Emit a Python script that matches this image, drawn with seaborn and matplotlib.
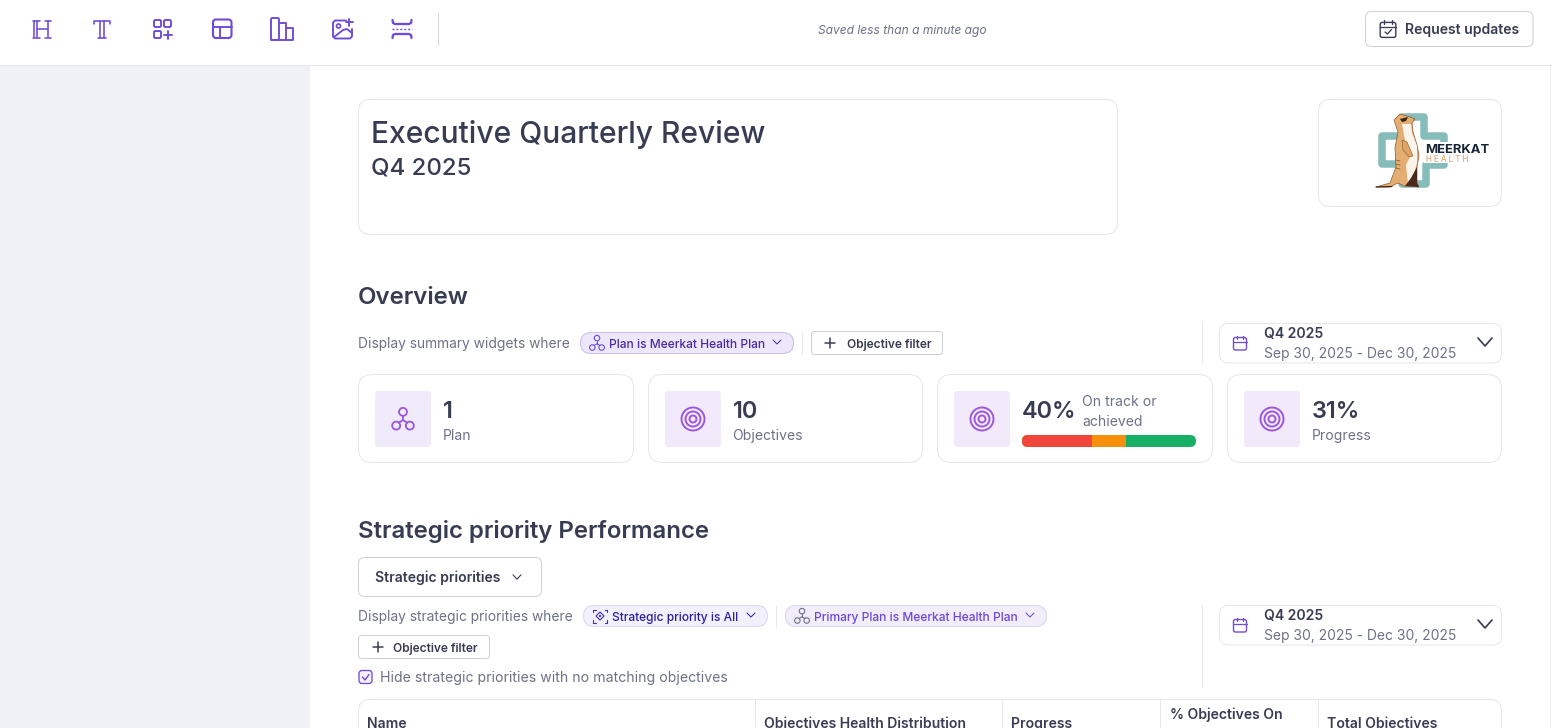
import numpy as np
import pandas as pd
import matplotlib
matplotlib.use("Agg")
import matplotlib.pyplot as plt
from matplotlib.patches import FancyBboxPatch, Circle, Polygon, Rectangle
import seaborn as sns

health_status = ["Off track", "At risk", "On track or achieved"]
health_counts = [4, 2, 4]
stat_values = ["1", "10", "40%", "31%"]
stat_labels = ["Plan", "Objectives", "On track or\nachieved", "Progress"]
table_headers = ["Name", "Objectives Health Distribution", "Progress", "% Objectives On", "Total Objectives"]

sns.set_theme(style="white")
plt.rcParams["font.family"] = ["Inter", "DejaVu Sans"]

DARK = "#373c52"
GRAY = "#6d7286"
LINE = "#e6e7ec"
PURPLE = "#6f4bd8"
ICON = "#9a56dc"
TB = 1.9

fig = plt.figure(figsize=(15.52, 7.28), dpi=100, facecolor="white")
ax = fig.add_axes([0, 0, 1, 1])
ax.set_xlim(0, 1552)
ax.set_ylim(728, 0)
ax.axis("off")
PX = 0.72


def box(x0, y0, x1, y1, r=8, fc="white", ec=LINE, lw=1.0, z=1):
    p = FancyBboxPatch((x0, y0), x1 - x0, y1 - y0, boxstyle=f"round,pad=0,rounding_size={r}",
                       fc=fc, ec=ec, lw=lw * PX, zorder=z, mutation_aspect=1)
    ax.add_patch(p)
    return p


def text(x, y, s, px=14, color=GRAY, weight="normal", ha="left", style="normal"):
    ax.text(x, y, s, fontsize=px * PX, color=color, fontweight=weight, ha=ha, va="baseline",
            fontstyle=style, zorder=5)


def line(xs, ys, color=PURPLE, lw=1.5, z=4, **kw):
    ax.plot(xs, ys, color=color, lw=lw * PX, zorder=z, solid_capstyle="round", **kw)


def chevron(x, y, w=5, h=3, color=DARK, lw=1.2):
    line([x - w, x, x + w], [y - h, y + h, y - h], color=color, lw=lw)


def plus(x, y, s=5, color=DARK, lw=1.5):
    line([x - s, x + s], [y, y], color=color, lw=lw)
    line([x, x], [y - s, y + s], color=color, lw=lw)


def ring(x, y, r, color=ICON, lw=1.3):
    ax.add_patch(Circle((x, y), r, fc="none", ec=color, lw=lw * PX, zorder=4))


def target(x, y):
    ring(x, y, 11.5, lw=1.9)
    ring(x, y, 7.5, lw=1.9)
    ring(x, y, 3.5, lw=1.9)


def nodes(x, y, k=1.0, color=ICON, lw=1.8):
    r = 3.8 * k
    ring(x, y - 6.8 * k, r, color, lw)
    ring(x - 6.5 * k, y + 6.3 * k, r, color, lw)
    ring(x + 6.5 * k, y + 6.3 * k, r, color, lw)
    line([x, x], [y - 3 * k, y + 1 * k], color, lw)
    line([x - 4 * k, x, x + 4 * k], [y + 3.5 * k, y + 1 * k, y + 3.5 * k], color, lw)


def calendar(x, y, color=PURPLE, check=False, k=1.0):
    box(x - 6.5 * k, y - 5.5 * k, x + 6.5 * k, y + 7 * k, r=2, fc="none", ec=color, lw=1.4, z=4)
    line([x - 6.5 * k, x + 6.5 * k], [y - 1.5 * k, y - 1.5 * k], color, 1.3)
    line([x - 3 * k, x - 3 * k], [y - 7.5 * k, y - 4 * k], color, 1.3)
    line([x + 3 * k, x + 3 * k], [y - 7.5 * k, y - 4 * k], color, 1.3)
    if check:
        line([x - 3, x - 0.5, x + 3.5], [y + 3, y + 5, y + 0.5], color, 1.3)


def date_box(y0):
    box(1219.5, y0 + 0.5, 1501.5, y0 + 40, r=9)
    calendar(1240, y0 + 20)
    text(1264, y0 + 15, "Q4 2025", 14, DARK, "semibold")
    text(1264, y0 + 35, "Sep 30, 2025 - Dec 30, 2025", 13.85, GRAY)
    chevron(1485, y0 + 19, 7, 4, DARK, 1.7)


# page scaffold
ax.add_patch(Rectangle((0, 66), 310, 662, fc="#f0f1f6", ec="none", zorder=0))
line([0, 1552], [65, 65], LINE, 1.0, z=1)
line([1550, 1550], [66, 728], "#eceef2", 1.0, z=1)

# toolbar icons
for dx in (33.5, 36.5, 47.5):
    line([dx, dx], [21, 37], PURPLE, TB - 0.3)
line([33, 40], [20.5, 20.5], PURPLE, TB - 0.3); line([33, 40], [37.5, 37.5], PURPLE, TB - 0.3)
line([44.5, 51], [20.5, 20.5], PURPLE, TB - 0.3); line([44.5, 51], [37.5, 37.5], PURPLE, TB - 0.3)
line([36.5, 47.5], [28.5, 28.5], PURPLE, TB - 0.3)
line([94, 94, 110, 110], [24, 20.5, 20.5, 24], PURPLE, TB - 0.3)
line([100, 100], [20.5, 37.5], PURPLE, TB - 0.3); line([104, 104], [20.5, 37.5], PURPLE, TB - 0.3)
line([98, 106], [37.5, 37.5], PURPLE, TB - 0.3)
box(154, 20, 161, 27, r=1.5, fc="none", ec=PURPLE, lw=TB, z=4)
box(164, 20, 171, 27, r=1.5, fc="none", ec=PURPLE, lw=TB, z=4)
box(154, 31, 161, 38, r=1.5, fc="none", ec=PURPLE, lw=TB, z=4)
plus(167.5, 34.5, 4, PURPLE, TB)
box(213, 19.5, 231.5, 38, r=3, fc="none", ec=PURPLE, lw=TB + 0.2, z=4)
line([213, 231.5], [26.5, 26.5], PURPLE, TB); line([220, 220], [26.5, 38], PURPLE, TB)
box(271, 18, 279, 40, r=1.5, fc="none", ec=PURPLE, lw=TB, z=4)
line([279, 286, 286], [23, 23, 40], PURPLE, TB)
line([286, 293, 293, 271], [28, 28, 40, 40], PURPLE, TB)
line([346, 335, 333, 333, 335, 350, 352, 352], [20.5, 20.5, 22.5, 36.5, 38.5, 38.5, 36.5, 29], PURPLE, TB)
ring(338.5, 26, 2, PURPLE, TB - 0.2)
line([334, 343, 347, 352], [37, 30, 29, 33], PURPLE, TB)
plus(349, 22, 3.5, PURPLE, TB)
line([392.5, 393, 395, 409, 411, 411.5], [20, 23, 24, 24, 23, 20], PURPLE, TB + 0.4)
line([392.5, 393, 395, 409, 411, 411.5], [38, 35, 34, 34, 35, 38], PURPLE, TB + 0.4)
ax.plot([392, 412], [29, 29], color=PURPLE, lw=1.4 * PX, ls=(0, (1.4, 1.4)), zorder=4)
line([438, 438], [13, 45], "#d5d7de", 1.0)

text(902, 34, "Saved less than a minute ago", 12, GRAY, ha="center", style="italic")
box(1365.5, 11.5, 1533, 46.5, r=6, ec="#cfd1d9")
calendar(1388, 29, DARK, check=True, k=1.2)
text(1405, 34, "Request updates", 14, DARK, "semibold")

# title and logo
box(358.5, 99.5, 1117.5, 234.5, r=12)
text(371, 143, "Executive Quarterly Review", 30, DARK, "medium")
text(371, 175, "Q4 2025", 24, DARK, "medium")
box(1318.5, 99.5, 1501.5, 206.5, r=12)
teal = "#86bcba"
cross = [(1402, 117), (1424, 117), (1424, 136), (1444, 136), (1444, 165), (1426, 165), (1426, 184),
         (1402, 184), (1402, 164), (1382, 164), (1382, 136), (1402, 136)]
ax.add_patch(Polygon(cross, closed=True, fc="none", ec=teal, lw=7.5 * PX, joinstyle="round", zorder=2))
ax.add_patch(Rectangle((1424, 142), 68, 21, fc="white", ec="none", zorder=2.5))
body = [(1394, 120), (1400, 114), (1410, 117), (1415, 119), (1412, 123), (1413, 132), (1417, 145), (1419, 155),
        (1417, 167), (1417, 183), (1419, 187), (1404, 186), (1398, 183), (1390, 187), (1376, 187), (1390, 183),
        (1396, 167), (1395, 148), (1398, 132), (1395, 123)]
ax.add_patch(Polygon(body, closed=True, fc="#e4ad72", ec="#8a5a30", lw=0.5, zorder=3))
ax.add_patch(Polygon([(1402, 124), (1411, 124), (1412, 133), (1417, 146), (1417, 163), (1413, 177), (1408, 184),
                      (1406, 165), (1411, 155), (1406, 146), (1404, 135)],
                     closed=True, fc="#fbf4ea", ec="none", zorder=3.2))
ax.add_patch(Polygon([(1402, 140), (1407, 142), (1413, 156), (1409, 157), (1403, 150)],
                     closed=True, fc="#e0a364", ec="#8a5a30", lw=0.4, zorder=3.25))
ax.add_patch(Polygon([(1417, 167), (1417, 183), (1419, 187), (1405, 186), (1411, 178)],
                     closed=True, fc="#4a2a1c", ec="none", zorder=3.3))
ax.add_patch(Polygon([(1400, 119), (1408, 117), (1406, 121), (1402, 122)], closed=True, fc="#3a2418", ec="none", zorder=3.4))
for yy in (160, 164, 168):
    line([1396, 1400], [yy, yy + 1], "#8a5a30", 0.8)
line([1376, 1392], [187, 186.5], "#3a2418", 1.2)
text(1425, 153, "MEERKAT", 13, "#182536", "bold")
text(1426, 162, "H E A L T H", 8, "#dfa96f", "medium")

# Overview
text(358, 304, "Overview", 24, DARK, "semibold")
text(358, 348, "Display summary widgets where", 13.8, GRAY)
box(580.5, 332.5, 793.5, 353.5, r=10.5, fc="#ece7fa", ec="#cdbdf0")
nodes(597, 343, 0.72, "#6f4bd8", 1.1)
text(609, 348, "Plan is Meerkat Health Plan", 12, "#4b2ca0", "medium")
chevron(777, 342, 4, 2, "#4b2ca0", 1)
line([802, 802], [332, 354], LINE, 1)
box(811.5, 331.5, 942.5, 354.5, r=3, ec="#cfd1d9")
plus(829.5, 343, 5, DARK, 1.5)
text(847, 348, "Objective filter", 12, DARK, "semibold")
line([1202, 1202], [322, 363], LINE, 1)
date_box(323)

# stat cards
cards = [(358.5, 633.5), (648.5, 922.5), (937.5, 1212.5), (1227.5, 1501.5)]
for i, (x0, x1) in enumerate(cards):
    box(x0, 374.5, x1, 462.5, r=14)
    ix = x0 + 16.5
    bg = "#efebfa" if i == 0 else "#f2e9fa"
    box(ix, 391, ix + 56, 447, r=3, fc=bg, ec="none")
    if i == 0:
        nodes(ix + 28, 419, 1.05)
    else:
        target(ix + 28, 419)
    tx = ix + 68
    text(tx, 418, stat_values[i], 23.5, DARK, "semibold")
    if i == 2:
        a, b = stat_labels[i].split("\n")
        text(1082, 406, a, 14, GRAY)
        text(1082, 426, b, 14, GRAY)
    else:
        text(tx - 0.7, 440, stat_labels[i], 14, GRAY)

# health distribution bar: cumulative bars drawn longest first
bar_ax = fig.add_axes([1022 / 1552, 1 - 447 / 728, 174 / 1552, 12 / 728])
cum = np.cumsum(health_counts)
df = pd.DataFrame({"status": health_status, "cum": cum, "row": "objectives"})
sns.barplot(data=df, x="cum", y="row", hue="status", hue_order=health_status[::-1],
            palette=dict(zip(health_status, ["#f0453a", "#f6900c", "#17ae66"])),
            dodge=False, width=1, saturation=1, legend=False, linewidth=0, ax=bar_ax)
bar_ax.set_xlim(0, cum[-1])
bar_ax.set_ylim(0.5, -0.5)
bar_ax.axis("off")
clip = FancyBboxPatch((1022, 435), 174, 12, boxstyle="round,pad=0,rounding_size=6", fc="none", ec="none", zorder=0)
ax.add_patch(clip)
for bar in bar_ax.patches:
    bar.set_clip_path(clip)

# Strategic priority section
text(358, 538, "Strategic priority Performance", 24, DARK, "semibold")
box(358.5, 557.5, 541.5, 596.5, r=6, ec="#cfd1d9")
text(375, 582, "Strategic priorities", 14, DARK, "semibold")
chevron(517, 577, 4, 2.2, DARK, 1.1)
text(358, 621, "Display strategic priorities where", 13.8, GRAY)
box(583.5, 605.5, 767.5, 626.5, r=10.5, fc="#f1f0fc", ec="#dcdaf3")
BR = "#3d2bb0"
for cx, sx in ((593, 1), (607, -1)):
    for cy, sy in ((609.5, 1), (622.5, -1)):
        line([cx, cx, cx + 2.5 * sx], [cy + 2.5 * sy, cy, cy], BR, 1.1)
ax.add_patch(Polygon([(600, 612), (604, 616), (600, 620), (596, 616)], closed=True, fc="none", ec=BR, lw=1.1 * PX, zorder=4))
ax.add_patch(Circle((600, 616), 1.1, fc=BR, ec="none", zorder=4))
text(612, 621, "Strategic priority is All", 12, "#2d20a0", "medium")
chevron(751, 615, 4, 2, "#2d20a0", 1)
line([776, 776], [605, 627], LINE, 1)
box(785.5, 605.5, 1046.5, 626.5, r=10.5, fc="#f1edfb", ec="#dcd4f3")
nodes(802, 616, 0.72, GRAY, 1.1)
text(814, 621, "Primary Plan is Meerkat Health Plan", 12, "#6e48d8", "medium")
chevron(1030, 615, 4, 2, "#6e48d8", 1)
box(358.5, 635.5, 489.5, 658.5, r=3, ec="#cfd1d9")
plus(377.5, 647, 5, DARK, 1.5)
text(393, 652, "Objective filter", 12, DARK, "semibold")
box(359, 670.5, 372, 683.5, r=3, fc="#f6f2fe", ec=PURPLE, lw=1.3)
line([362.5, 365, 369], [677, 680, 674.5], PURPLE, 1.4)
text(380, 682, "Hide strategic priorities with no matching objectives", 14.05, GRAY)
line([1202, 1202], [605, 687], LINE, 1)
date_box(605)

# table header (cut by the screenshot edge)
box(358.5, 699.5, 1501.5, 790, r=12)
for dx in (755, 1002, 1160, 1318):
    line([dx, dx], [700, 728], LINE, 1)
for x, y, s in zip((367, 764, 1011, 1169.5, 1327), (728, 728, 728, 719, 728), table_headers):
    text(x, y, s, 14, DARK, "semibold")

fig.savefig("out.png", dpi=100, facecolor="white")
